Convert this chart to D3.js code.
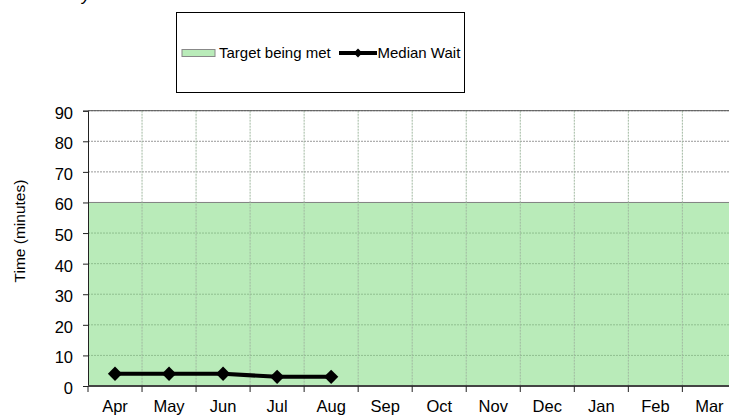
<!DOCTYPE html>
<html>
<head>
<meta charset="utf-8">
<script src="https://cdn.jsdelivr.net/npm/d3@7"></script>
<style>
  body { margin: 0; background: #fff; }
  svg { display: block; }
  text { font-family: "Liberation Sans", Arial, sans-serif; fill: #000; }
</style>
</head>
<body>
<div id="chart"></div>
<script>
let months = ['Apr','May','Jun','Jul','Aug','Sep','Oct','Nov','Dec','Jan','Feb','Mar'];
let medianWait = [4, 4, 4, 3, 3];
let targetValue = 60;
let yTicks = [0,10,20,30,40,50,60,70,80,90];

let width = 729;
let height = 417;

const margin = {
    top: 110.7,
    left: 88,
    bottom: 31,
    right: -7.4,
};

let svg = d3.select('#chart').append('svg')
    .attr('width', width)
    .attr('height', height);

//-----X-------
let x = d3.scaleBand().domain(months)
    .range([margin.left, width - margin.right]);

//-----Y-------
let y = d3.scaleLinear().domain([0, 90])
    .range([height - margin.bottom, margin.top]);

// target area
svg.append('rect')
    .attr('x', x.range()[0])
    .attr('y', y(targetValue))
    .attr('width', x.range()[1] - x.range()[0])
    .attr('height', y(0) - y(targetValue))
    .attr('fill', '#b9ebb9');

// grid
let grid = svg.append('g');
grid.selectAll('line.h')
    .data(yTicks.filter(d => d > 0))
    .enter().append('line')
        .attr('x1', x.range()[0]).attr('x2', x.range()[1])
        .attr('y1', d => y(d)).attr('y2', d => y(d))
        .attr('stroke', d => d == targetValue ? '#808080' : (d < targetValue ? '#8fbf8f' : '#9a9a9a'))
        .attr('stroke-width', 1)
        .attr('stroke-dasharray', d => d == targetValue ? null : '2,1');

grid.selectAll('line.v')
    .data(months.slice(1))
    .enter().append('line')
        .attr('x1', d => x(d)).attr('x2', d => x(d))
        .attr('y1', y(90)).attr('y2', y(0))
        .attr('stroke', '#a0b8a0')
        .attr('stroke-width', 1)
        .attr('stroke-dasharray', '2,1');

// top border
svg.append('line')
    .attr('x1', x.range()[0]).attr('x2', x.range()[1])
    .attr('y1', y(90)).attr('y2', y(90))
    .attr('stroke', '#555');

// y axis
let yAxis = d3.axisLeft(y).tickValues(yTicks).tickSize(5).tickPadding(10);
let yg = svg.append('g').attr('transform', 'translate(' + margin.left + ',0)').call(yAxis);
yg.select('.domain').attr('stroke', '#222');
yg.selectAll('.tick line').attr('stroke', '#222');
yg.selectAll('text')
    .attr('dy', '0.45em')
    .style('font-size', '16.5px')
    .style('font-family', '"Liberation Sans", Arial, sans-serif');

// x axis: ticks on category boundaries
let xg = svg.append('g').attr('transform', 'translate(0,' + y(0) + ')');
xg.append('line')
    .attr('x1', x.range()[0]).attr('x2', x.range()[1])
    .attr('stroke', '#444').attr('stroke-width', 2);
xg.selectAll('line.t')
    .data(months)
    .enter().append('line')
        .attr('x1', d => x(d)).attr('x2', d => x(d))
        .attr('y1', 0).attr('y2', 6)
        .attr('stroke', '#222');
xg.selectAll('text')
    .data(months)
    .enter().append('text')
        .attr('x', d => x(d) + x.bandwidth() / 2)
        .attr('y', 26)
        .attr('text-anchor', 'middle')
        .style('font-size', '16.5px')
        .text(d => d);

// y label
svg.append('text')
    .attr('transform', 'translate(25,231) rotate(-90)')
    .attr('text-anchor', 'middle')
    .style('font-size', '15.5px')
    .text('Time (minutes)');

// line
let line = d3.line()
    .x((d, i) => x(months[i]) + x.bandwidth() / 2)
    .y(d => y(d));

svg.append('path')
    .datum(medianWait)
    .attr('d', line)
    .attr('fill', 'none')
    .attr('stroke', '#000')
    .attr('stroke-width', 4);

svg.selectAll('path.pt')
    .data(medianWait)
    .enter().append('path')
        .attr('d', d3.symbol().type(d3.symbolDiamond2).size(130))
        .attr('transform', (d, i) => 'translate(' + (x(months[i]) + x.bandwidth() / 2) + ',' + y(d) + ')')
        .attr('fill', '#000');

// cut off title descender
svg.append('text')
    .attr('x', 82).attr('y', 1)
    .style('font-size', '16px')
    .style('font-style', 'italic')
    .text('y');

// legend
let lg = svg.append('g');
lg.append('rect')
    .attr('x', 176.5).attr('y', 12.5)
    .attr('width', 288).attr('height', 80)
    .attr('fill', '#fff').attr('stroke', '#000');
lg.append('rect')
    .attr('x', 182).attr('y', 49.5)
    .attr('width', 33).attr('height', 7)
    .attr('fill', '#b9ebb9').attr('stroke', '#888');
lg.append('text')
    .attr('x', 219).attr('y', 57.5)
    .style('font-size', '15px')
    .text('Target being met');
lg.append('line')
    .attr('x1', 339).attr('x2', 377)
    .attr('y1', 53).attr('y2', 53)
    .attr('stroke', '#000').attr('stroke-width', 4);
lg.append('path')
    .attr('d', d3.symbol().type(d3.symbolDiamond2).size(50))
    .attr('transform', 'translate(358,53)')
    .attr('fill', '#000');
lg.append('text')
    .attr('x', 377.5).attr('y', 57.5)
    .style('font-size', '15px')
    .text('Median Wait');
</script>
</body>
</html>
